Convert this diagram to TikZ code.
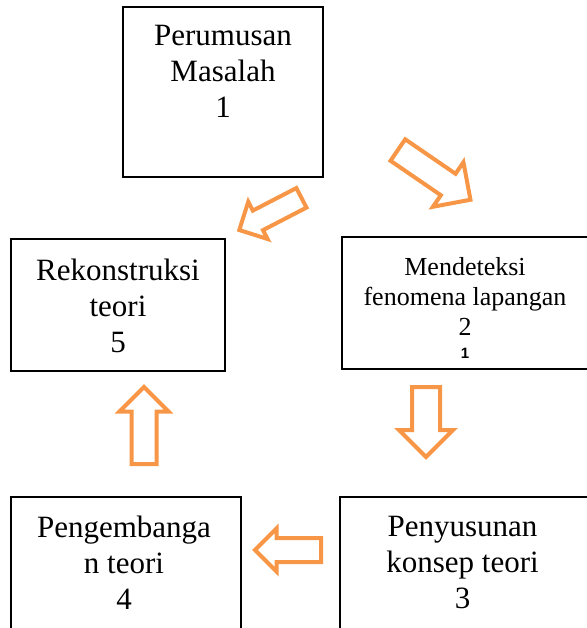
\documentclass[tikz,border=0pt]{standalone}
\usepackage{fontspec}
\setmainfont{Liberation Serif}
\setsansfont{Liberation Sans}
\usetikzlibrary{shapes.arrows}
\definecolor{arroworange}{HTML}{F79646}

\begin{document}
\begin{tikzpicture}[x=1pt, y=1pt]
          \tikzstyle{box}=[draw, line width=1.2pt, rectangle, inner sep=0pt]
          \tikzstyle{boxtext}=[align=center, inner sep=0pt, anchor=north, font=\fontsize{31}{36}\selectfont]
          \tikzstyle{blockarrow}=[draw=arroworange, line width=4pt, single arrow, single arrow head indent=0pt, inner xsep=0pt, anchor=tail]

          \useasboundingbox (0, 0) rectangle (586, -628);

          \node (rumusan) at (223, -92) [box, minimum width=200pt, minimum height=170pt] {};
          \node (rumusanlabel) at (223, -25) [boxtext] {Perumusan\\Masalah\\1};

          \node (deteksi) at (471, -303) [box, minimum width=258pt, minimum height=132pt] {};
          \node (deteksilabel) at (465, -257) [boxtext, font=\fontsize{26}{30}\selectfont] {Mendeteksi\\fenomena lapangan\\2\\[-7pt]{\sffamily\bfseries\fontsize{15}{16}\selectfont 1}};

          \node (susun) at (470, -567) [box, minimum width=260pt, minimum height=140pt] {};
          \node (susunlabel) at (462.5, -516) [boxtext] {Penyusunan\\konsep teori\\3};

          \node (kembang) at (126, -567) [box, minimum width=230pt, minimum height=140pt] {};
          \node (kembanglabel) at (124, -516) [boxtext] {Pengembanga\\n teori\\4};

          \node (rekon) at (118, -305) [box, minimum width=214pt, minimum height=132pt] {};
          \node (rekonlabel) at (118, -259) [boxtext] {Rekonstruksi\\teori\\5};

          % arrows between the steps, placed by their tails
          \node (a12) at (396.2, -148.9) [blockarrow, rotate=-34.4, minimum height=88pt, inner ysep=11pt, single arrow head extend=14pt] {};
          \node (a23) at (426, -385) [blockarrow, rotate=-90, minimum height=70pt, inner ysep=12pt, single arrow head extend=13pt] {};
          \node (a34) at (323, -550) [blockarrow, rotate=180, minimum height=66pt, inner ysep=10pt, single arrow head extend=9.5pt] {};
          \node (a45) at (144, -466) [blockarrow, rotate=90, minimum height=77pt, inner ysep=10.5pt, single arrow head extend=12pt] {};
          \node (a51) at (303.2, -196.9) [blockarrow, rotate=207.4, minimum height=70pt, inner ysep=9pt, single arrow head extend=10pt] {};
        \end{tikzpicture}
\end{document}
